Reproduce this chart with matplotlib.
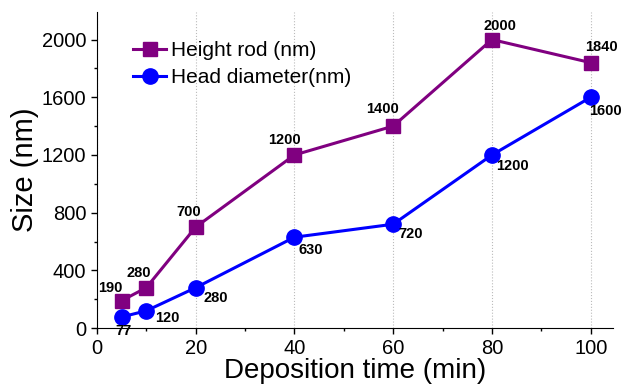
import matplotlib
matplotlib.use("Agg")
import matplotlib.pyplot as plt
from matplotlib.ticker import MultipleLocator

time_min = [5, 10, 20, 40, 60, 80, 100]
height_rod = [190, 280, 700, 1200, 1400, 2000, 1840]
head_diam = [77, 120, 280, 630, 720, 1200, 1600]
height_labels = ["190", "280", "700", "1200", "1400", "2000", "1840"]
head_labels = ["77", "120", "280", "630", "720", "1200", "1600"]

height_offsets = [(-11, 13), (-8, 15), (-7, 15), (-10, 15), (-11, 17), (8, 14), (11, 16)]
head_offsets = [(2, -14), (21, -7), (20, -10), (16, -13), (17, -10), (20, -11), (15, -14)]

plt.rcParams['font.family'] = ['Liberation Sans', 'DejaVu Sans']

fig = plt.figure(figsize=(6.21, 3.92), dpi=100)
ax = fig.add_axes([0.156, 0.163, 0.831, 0.806])

ax.plot(time_min, height_rod, color='#800080', lw=2.2, marker='s', ms=10,
        label='Height rod (nm)', zorder=3)
ax.plot(time_min, head_diam, color='#0000ff', lw=2.2, marker='o', ms=11,
        label='Head diameter(nm)', zorder=3)

ann_font = dict(family=['Liberation Sans Narrow', 'Liberation Sans'], fontweight='bold', fontsize=10.5)
for x, y, t, off in zip(time_min, height_rod, height_labels, height_offsets):
    ax.annotate(t, (x, y), xytext=off, textcoords='offset pixels',
                ha='center', va='center', **ann_font)
for x, y, t, off in zip(time_min, head_diam, head_labels, head_offsets):
    ax.annotate(t, (x, y), xytext=off, textcoords='offset pixels',
                ha='center', va='center', **ann_font)

ax.set_xlim(0, 104.5)
ax.set_ylim(0, 2190)
ax.xaxis.set_major_locator(MultipleLocator(20))
ax.xaxis.set_minor_locator(MultipleLocator(10))
ax.yaxis.set_major_locator(MultipleLocator(400))
ax.yaxis.set_minor_locator(MultipleLocator(200))
ax.tick_params(axis='both', which='major', labelsize=14.5, length=4, width=1)
ax.tick_params(axis='both', which='minor', length=2.5, width=1)
ax.spines['top'].set_visible(False)
ax.spines['right'].set_visible(False)
ax.xaxis.grid(True, linestyle=':', color='#bbbbbb', lw=0.8)
ax.set_axisbelow(True)

ax.set_xlabel('Deposition time (min)', fontsize=20, labelpad=0)
ax.set_ylabel('Size (nm)', fontsize=21, labelpad=2)

ax.legend(loc='upper left', bbox_to_anchor=(0.054, 0.935), frameon=False,
          fontsize=15, handlelength=1.6, handletextpad=0.2, labelspacing=0.4,
          borderaxespad=0)

fig.savefig('out.png', dpi=100)
